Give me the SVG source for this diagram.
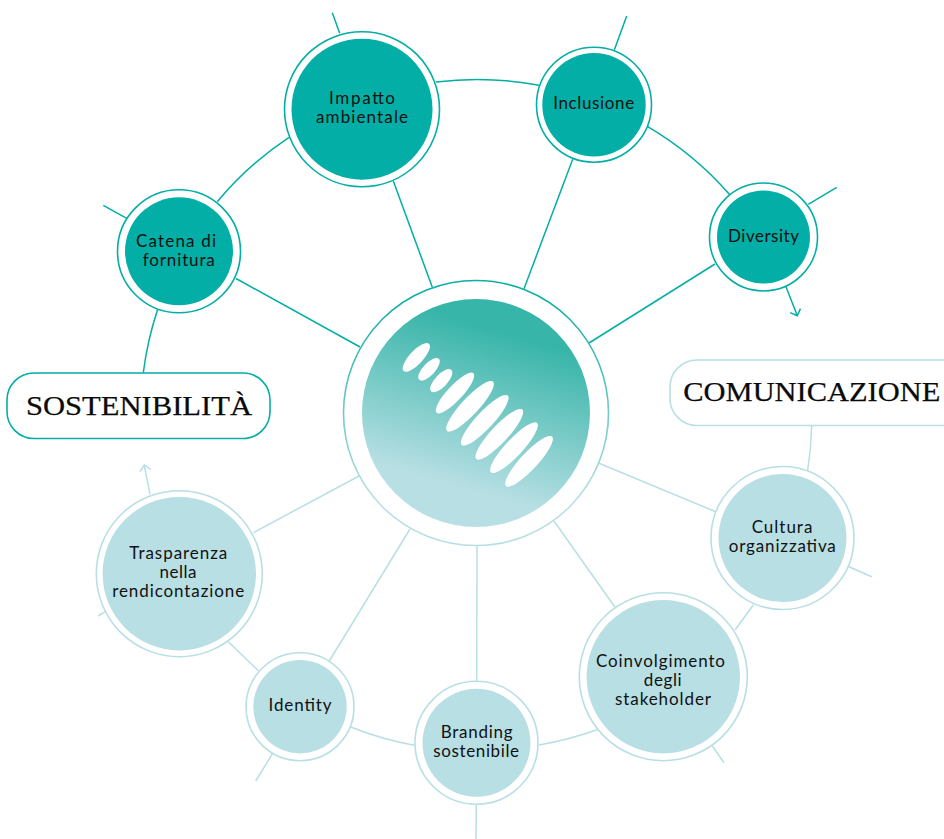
<svg xmlns="http://www.w3.org/2000/svg" width="944" height="839" viewBox="0 0 944 839">
<style>
.c{fill:none;stroke-width:1.5;stroke-linecap:butt}
.t{stroke:#02aea5}
.l{stroke:#b8dfe4}
.r{fill:#fff;stroke-width:1.6}
.i1{fill:#02aea5}
.i2{fill:#b8dfe4}
.lb{font-family:"Lato","Liberation Sans",sans-serif;font-size:17px;fill:#111;text-anchor:middle}
.h{font-family:"Liberation Serif",serif;font-size:27.5px;fill:#0a0a0a;stroke:#0a0a0a;stroke-width:.25}
.e{fill:#fff}
</style>
<defs>
<linearGradient id="disc" gradientUnits="userSpaceOnUse" x1="508" y1="335" x2="463" y2="488">
<stop offset="0" stop-color="#38b5a9"/><stop offset="1" stop-color="#b8dfe4"/>
</linearGradient>
<linearGradient id="ring" gradientUnits="userSpaceOnUse" x1="476" y1="300" x2="476" y2="500">
<stop offset="0" stop-color="#10aea4"/><stop offset="1" stop-color="#b8dfe4"/>
</linearGradient>
<marker id="at" markerUnits="userSpaceOnUse" markerWidth="14" markerHeight="14" refX="7" refY="7" orient="auto">
<path d="M1.5 1.5L7 7L1.5 12.5" fill="none" stroke="#02aea5" stroke-width="1.5"/>
</marker>
<marker id="al" markerUnits="userSpaceOnUse" markerWidth="14" markerHeight="14" refX="7" refY="7" orient="auto">
<path d="M1.5 1.5L7 7L1.5 12.5" fill="none" stroke="#b8dfe4" stroke-width="1.5"/>
</marker>
</defs>
<rect width="944" height="839" fill="#fff"/>
<g id="connectors">
<path class="c t" d="M236 278.5L360 347"/>
<path class="c t" d="M393.3 181L432.3 287.3"/>
<path class="c t" d="M572.7 159.3L524 288.7"/>
<path class="c t" d="M715 264L589 343"/>
<path class="c l" d="M599 463.3L715.7 511.7"/>
<path class="c l" d="M554 521L615 607.3"/>
<path class="c l" d="M477 546L476.7 681"/>
<path class="c l" d="M410 529L329.3 661"/>
<path class="c l" d="M359 476L253.3 532.7"/>
<path class="c t" d="M217.3 201.7A334 334 0 0 1 289 137.3"/>
<path class="c t" d="M436 82A334 334 0 0 1 539 85.3"/>
<path class="c t" d="M647.7 126.7A334 334 0 0 1 730 195"/>
<path class="c t" d="M157.7 309.3A335 335 0 0 0 143.3 372.7"/>
<path class="c t" d="M339.7 33.3L332.3 12.7"/>
<path class="c t" d="M614.3 50L626.7 16"/>
<path class="c t" d="M126.7 218.3L103.3 205.3"/>
<path class="c t" d="M808.3 204.3L836.7 187.3"/>
<path class="c t" d="M786 286.7L797.3 315.7" marker-end="url(#at)"/>
<path class="c l" d="M811.7 425.7A336 336 0 0 1 807.7 470"/>
<path class="c l" d="M849 566.7L871.7 576.7"/>
<path class="c l" d="M753.3 605L735 630"/>
<path class="c l" d="M712.3 745.7L724 762.7"/>
<path class="c l" d="M598.3 729.3A334 334 0 0 1 539 745"/>
<path class="c l" d="M414.3 745.3A334 334 0 0 1 350.7 727"/>
<path class="c l" d="M272.3 754L255.7 781"/>
<path class="c l" d="M258.3 670.7L228.3 641.7"/>
<path class="c l" d="M476.3 804.7L476 839"/>
<path class="c l" d="M105 611.7L98.3 616"/>
<path class="c l" d="M150 494.3L144.2 465" marker-end="url(#al)"/>
</g>
<g id="center">
<circle cx="476" cy="413" r="132.5" fill="#fff" stroke="url(#ring)" stroke-width="1.6"/>
<circle cx="476" cy="413" r="114" fill="url(#disc)"/>
<ellipse class="e" cx="416.3" cy="357.3" rx="18.6" ry="6.8" transform="rotate(-47 416.3 357.3)"/>
<ellipse class="e" cx="429" cy="369.3" rx="14.4" ry="6" transform="rotate(-47 429 369.3)"/>
<ellipse class="e" cx="441.3" cy="380.7" rx="14.8" ry="6.2" transform="rotate(-47 441.3 380.7)"/>
<ellipse class="e" cx="455" cy="393" rx="27" ry="7.5" transform="rotate(-47 455 393)"/>
<ellipse class="e" cx="470" cy="406.3" rx="33.8" ry="8.5" transform="rotate(-47 470 406.3)"/>
<ellipse class="e" cx="484.7" cy="420.3" rx="33.8" ry="8.5" transform="rotate(-47 484.7 420.3)"/>
<ellipse class="e" cx="499.3" cy="434.3" rx="33.8" ry="8.5" transform="rotate(-47 499.3 434.3)"/>
<ellipse class="e" cx="514" cy="447.7" rx="33.8" ry="8.5" transform="rotate(-47 514 447.7)"/>
<ellipse class="e" cx="529" cy="461.3" rx="33.8" ry="8.5" transform="rotate(-47 529 461.3)"/>
</g>
<g id="sostenibilita">
<rect class="r t" x="7" y="373" width="263" height="65.5" rx="27"/>
<text class="h" x="26" y="415" textLength="226" lengthAdjust="spacingAndGlyphs">SOSTENIBILITÀ</text>
</g>
<g id="comunicazione">
<rect class="r l" x="670" y="360" width="300" height="65.5" rx="27"/>
<text class="h" x="683.3" y="401" textLength="257" lengthAdjust="spacingAndGlyphs">COMUNICAZIONE</text>
</g>
<g id="catena">
<circle class="r t" cx="179" cy="251.3" r="61.5"/><circle class="i1" cx="179" cy="251.3" r="54"/>
<text class="lb" x="176" y="246.7" textLength="80">Catena di</text>
<text class="lb" x="178.8" y="266" textLength="72">fornitura</text>
</g>
<g id="impatto">
<circle class="r t" cx="362" cy="109.2" r="77.5"/><circle class="i1" cx="362" cy="109.2" r="70.5"/>
<text class="lb" x="362" y="104.3" textLength="66">Impatto</text>
<text class="lb" x="362" y="123.3" textLength="92">ambientale</text>
</g>
<g id="inclusione">
<circle class="r t" cx="594" cy="104.7" r="57.5"/><circle class="i1" cx="594" cy="104.7" r="51.7"/>
<text class="lb" x="593.7" y="109" textLength="81">Inclusione</text>
</g>
<g id="diversity">
<circle class="r t" cx="763.5" cy="237" r="54"/><circle class="i1" cx="763.5" cy="237" r="46.5"/>
<text class="lb" x="763.5" y="242" textLength="71">Diversity</text>
</g>
<g id="cultura">
<circle class="r l" cx="782.5" cy="538" r="71.5"/><circle class="i2" cx="782.5" cy="538" r="64"/>
<text class="lb" x="782" y="532.6" textLength="60.7">Cultura</text>
<text class="lb" x="782.3" y="551.7" textLength="107">organizzativa</text>
</g>
<g id="coinvolgimento">
<circle class="r l" cx="663.3" cy="676.7" r="84"/><circle class="i2" cx="663.3" cy="676.7" r="76.7"/>
<text class="lb" x="660.5" y="666.7" textLength="129">Coinvolgimento</text>
<text class="lb" x="662.7" y="685.8" textLength="37.7">degli</text>
<text class="lb" x="663" y="705" textLength="96">stakeholder</text>
</g>
<g id="branding">
<circle class="r l" cx="476.5" cy="742.8" r="61.5"/><circle class="i2" cx="476.5" cy="742.8" r="54"/>
<text class="lb" x="476.7" y="737.7" textLength="72">Branding</text>
<text class="lb" x="476.2" y="756.8" textLength="85.7">sostenibile</text>
</g>
<g id="identity">
<circle class="r l" cx="300" cy="706.7" r="54"/><circle class="i2" cx="300" cy="706.7" r="46.7"/>
<text class="lb" x="300" y="711" textLength="63">Identity</text>
</g>
<g id="trasparenza">
<circle class="r l" cx="179.3" cy="573.7" r="83"/><circle class="i2" cx="179.3" cy="573.7" r="76.7"/>
<text class="lb" x="178.3" y="559" textLength="98">Trasparenza</text>
<text class="lb" x="178" y="578.1" textLength="37">nella</text>
<text class="lb" x="178.2" y="597.2" textLength="132">rendicontazione</text>
</g>
</svg>
